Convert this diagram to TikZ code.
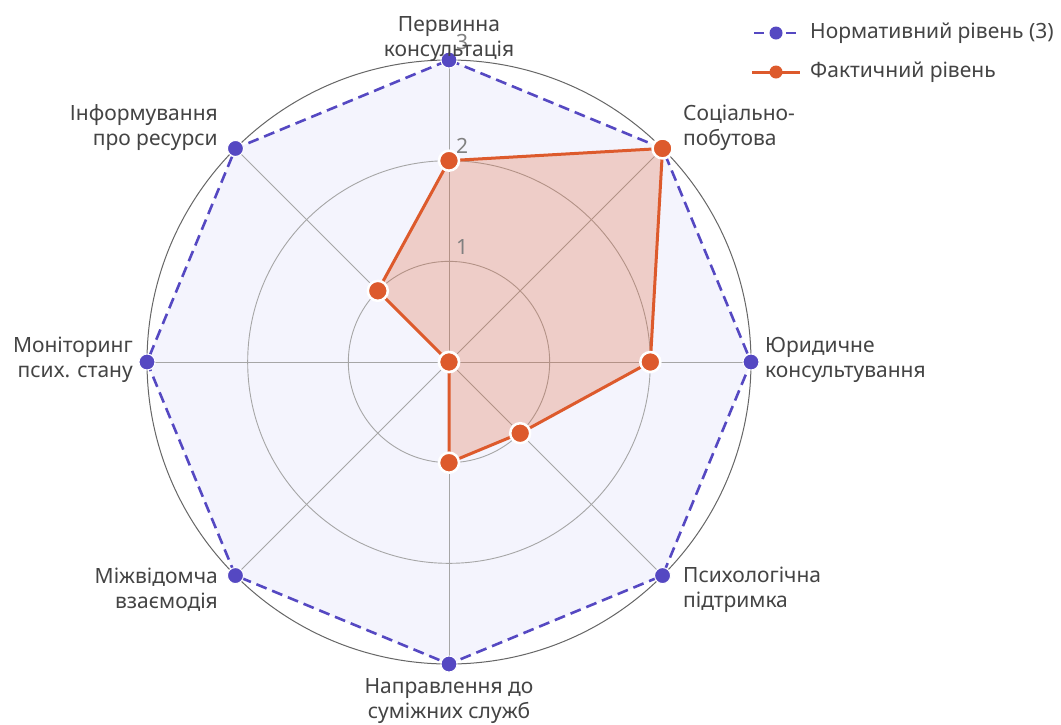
\documentclass[tikz,border=0pt]{standalone}
\usepackage{fontspec}
\setmainfont{Noto Sans}
\usetikzlibrary{calc}
\definecolor{normc}{HTML}{5548C2}
\definecolor{actc}{HTML}{DD5A2C}
\definecolor{normfill}{HTML}{F4F4FD}
\definecolor{txtc}{HTML}{444444}
\definecolor{tickc}{HTML}{808080}
\tikzset{
  gridc/.style={draw=black!35, line width=0.9pt},
  outerc/.style={draw=black!60, line width=1pt},
  normline/.style={draw=normc, line width=2.6pt, dash pattern=on 11pt off 6pt},
  actline/.style={draw=actc, line width=3pt, line join=round},
  normdot/.style={circle, fill=normc, draw=white, line width=1pt, minimum size=16pt, inner sep=0pt},
  actdot/.style={circle, fill=actc, draw=white, line width=2.5pt, minimum size=20pt, inner sep=0pt},
  lbl/.style={text=txtc, inner sep=0pt, font=\fontsize{21}{25}\selectfont},
  ticklbl/.style={text=tickc, inner sep=0pt, font=\fontsize{21}{25}\selectfont}
}
\begin{document}
\begin{tikzpicture}[x=1pt,y=-1pt]
\useasboundingbox (0,0) rectangle (1061,724);
\fill[white] (0,0) rectangle (1061,724);
\coordinate (O) at (449,362);
\foreach \i in {0,...,7} {
  \coordinate (n\i) at ($(O)+({-90+45*\i}:302)$);
}
\foreach \i/\v in {0/2,1/3,2/2,3/1,4/1,5/0,6/0,7/1} {
  \coordinate (a\i) at ($(O)+({-90+45*\i}:{100.67*\v})$);
}
% normative fill
\fill[normfill] (n0)--(n1)--(n2)--(n3)--(n4)--(n5)--(n6)--(n7)--cycle;
% grid
\draw[gridc] (O) circle (100.67);
\draw[gridc] (O) circle (201.33);
\draw[outerc] (O) circle (302);
\foreach \i in {0,...,7} { \draw[gridc] (O) -- (n\i); }
% actual fill
\fill[actc, opacity=0.25] (a0)--(a1)--(a2)--(a3)--(a4)--(a5)--(a6)--(a7)--cycle;
% tick labels
\node[ticklbl, anchor=west] (t1) at (456,247) {1};
\node[ticklbl, anchor=west] (t2) at (456,146) {2};
\node[ticklbl, anchor=west] (t3) at (456,42) {3};
% lines
\draw[normline] (n0)--(n1)--(n2)--(n3)--(n4)--(n5)--(n6)--(n7)--cycle;
\draw[actline] (a0)--(a1)--(a2)--(a3)--(a4)--(a5)--(a6)--(a7)--cycle;
% dots
\foreach \i in {0,...,7} { \node[normdot] (nd\i) at (n\i) {}; }
\foreach \i in {0,...,7} { \node[actdot] (ad\i) at (a\i) {}; }
% axis labels
\node[lbl, align=center, anchor=south] (l0) at (449,62) {Первинна\\консультація};
\node[lbl, align=left, anchor=west] (l1) at (683,128) {Соціально-\\побутова};
\node[lbl, align=left, anchor=west] (l2) at (765,360) {Юридичне\\консультування};
\node[lbl, align=left, anchor=west] (l3) at (683,590) {Психологічна\\підтримка};
\node[lbl, align=center, anchor=north] (l4) at (449,678) {Направлення до\\суміжних служб};
\node[lbl, align=right, anchor=east] (l5) at (218,590) {Міжвідомча\\взаємодія};
\node[lbl, align=right, anchor=east] (l6) at (133,360) {Моніторинг\\псих. стану};
\node[lbl, align=right, anchor=east] (l7) at (218,128) {Інформування\\про ресурси};
% legend
\coordinate (lg1a) at (752,33); \coordinate (lg1b) at (800,33);
\coordinate (lg2a) at (752,72); \coordinate (lg2b) at (800,72);
\draw[draw=normc, line width=2.6pt, dash pattern=on 10pt off 6pt, dash phase=-2pt] (lg1a) -- (lg1b);
\node[circle, fill=normc, minimum size=13pt, inner sep=0pt] (lgd1) at (776,33) {};
\draw[actc, line width=3pt] (lg2a) -- (lg2b);
\node[circle, fill=actc, minimum size=13pt, inner sep=0pt] (lgd2) at (776,72) {};
\node[lbl, anchor=west] (lgt1) at (810,33) {Нормативний рівень (3)};
\node[lbl, anchor=west] (lgt2) at (810,72) {Фактичний рівень};
\end{tikzpicture}
\end{document}
